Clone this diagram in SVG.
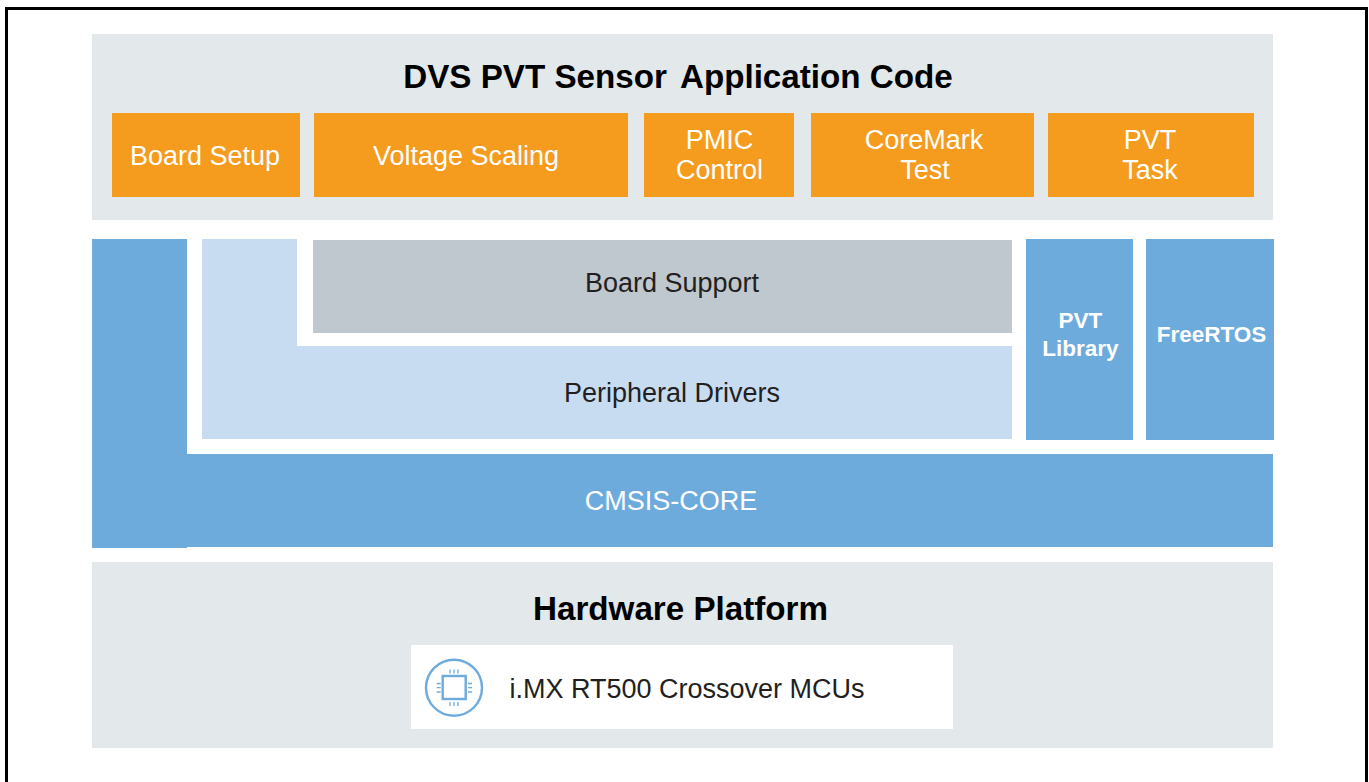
<svg xmlns="http://www.w3.org/2000/svg" width="1369" height="782" viewBox="0 0 1369 782">
<style>
text{font-family:"Liberation Sans",Arial,sans-serif;text-anchor:middle}
.panel{fill:#e3e8eb}
.or{fill:#f59b1e}
.bl{fill:#6dabdd}
.lb{fill:#c7dcf0}
.w{fill:#fff;font-size:27px}
.d{fill:#231f20;font-size:27px}
.h{fill:#000;font-size:33.200px;font-weight:bold}
.s{fill:#fff;font-size:22.500px;font-weight:bold}
.ic{fill:none;stroke:#6dabdd}
</style>
<rect width="1369" height="782" fill="#fff"/>
<path d="M6.500 782V8.500H1366.500V782" fill="none" stroke="#000" stroke-width="3"/>
<g id="app-panel"><rect class="panel" x="92" y="34" width="1181" height="186"/><text class="h" x="678" y="88">DVS PVT Sensor <tspan dx="5">Application Code</tspan></text></g>
<g id="board-setup"><rect class="or" x="112" y="113" width="188" height="84"/><text class="w" x="205" y="165">Board Setup</text></g>
<g id="voltage-scaling"><rect class="or" x="314" y="113" width="314" height="84"/><text class="w" x="466" y="165">Voltage Scaling</text></g>
<g id="pmic-control"><rect class="or" x="644" y="113" width="150" height="84"/><text class="w" x="719.500" y="149">PMIC</text><text class="w" x="719.500" y="179">Control</text></g>
<g id="coremark-test"><rect class="or" x="811" y="113" width="223" height="84"/><text class="w" x="924" y="149">CoreMark</text><text class="w" x="925" y="179">Test</text></g>
<g id="pvt-task"><rect class="or" x="1048" y="113" width="206" height="84"/><text class="w" x="1150" y="149">PVT</text><text class="w" x="1150" y="179">Task</text></g>
<g id="cmsis-core"><path class="bl" d="M92 239H187V454H1273V547H187V548H92Z"/><text class="w" x="671" y="510">CMSIS-CORE</text></g>
<g id="peripheral-drivers"><path class="lb" d="M202 239H297V346H1012V439H202Z"/><text class="d" x="672" y="402">Peripheral Drivers</text></g>
<g id="board-support"><rect x="313" y="240" width="699" height="93" fill="#bfc7cf"/><text class="d" x="672" y="292">Board Support</text></g>
<g id="pvt-library"><rect class="bl" x="1026" y="239" width="107" height="201"/><text class="s" x="1080.500" y="328">PVT</text><text class="s" x="1080.500" y="356">Library</text></g>
<g id="freertos"><rect class="bl" x="1146" y="239" width="128" height="201"/><text class="s" x="1211.500" y="342">FreeRTOS</text></g>
<g id="hardware-panel"><rect class="panel" x="92" y="562" width="1181" height="186"/><text class="h" x="680.500" y="620">Hardware Platform</text></g>
<g id="mcu"><rect x="411" y="645" width="542" height="84" fill="#fff"/>
<circle class="ic" cx="454" cy="687.700" r="28" stroke-width="2.400"/>
<rect class="ic" x="442.700" y="676" width="23" height="23" stroke-width="2.400"/>
<path class="ic" stroke-width="1.300" d="M450 669.500v4M454 669.500v4M458 669.500v4M450 702v4M454 702v4M458 702v4M436.700 683.500h4M436.700 687.700h4M436.700 692h4M468 683.500h4M468 687.700h4M468 692h4"/>
<text class="d" x="687" y="698">i.MX RT500 Crossover MCUs</text></g>
<g id="connectors"></g>
</svg>
